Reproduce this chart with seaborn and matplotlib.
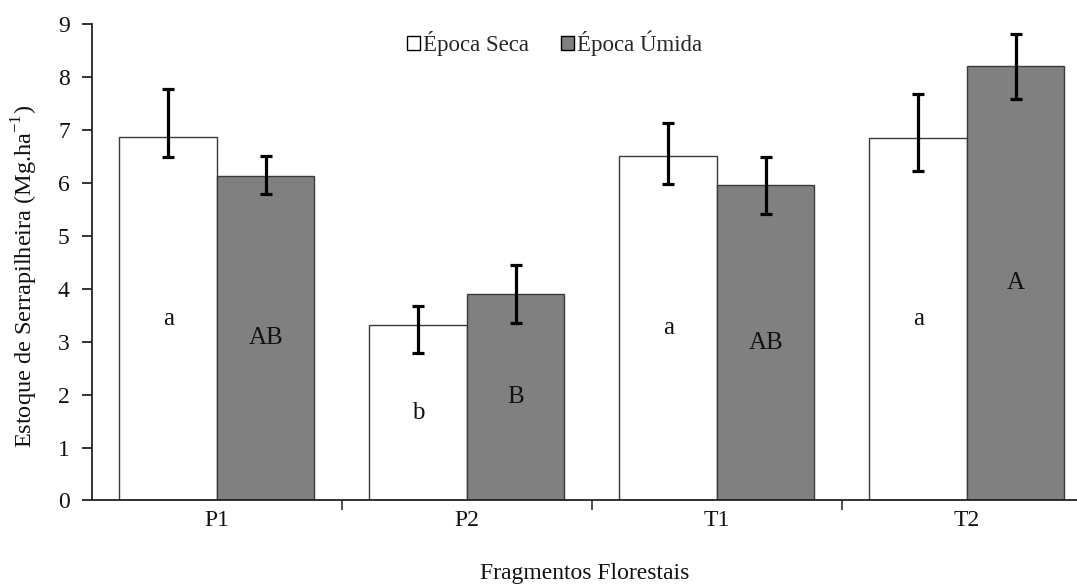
import numpy as np
import pandas as pd
import matplotlib
matplotlib.use("Agg")
import matplotlib.pyplot as plt
import seaborn as sns

# Litter stock per forest fragment and season (Mg/ha)
fragments = ["P1", "P2", "T1", "T2"]
seasons = ["Época Seca", "Época Úmida"]
dry_mean = [6.87, 3.31, 6.50, 6.84]
wet_mean = [6.13, 3.90, 5.96, 8.21]
dry_upper = [7.78, 3.68, 7.13, 7.68]
dry_lower = [6.48, 2.79, 5.98, 6.23]
wet_upper = [6.51, 4.44, 6.48, 8.82]
wet_lower = [5.78, 3.36, 5.41, 7.58]
dry_letters = ["a", "b", "a", "a"]
wet_letters = ["AB", "B", "AB", "A"]

df = pd.DataFrame({
    "Fragmento": fragments * 2,
    "Época": [seasons[0]] * 4 + [seasons[1]] * 4,
    "Estoque": dry_mean + wet_mean,
})

sns.set_theme(style="white")
plt.rcParams["font.family"] = ["Liberation Serif", "DejaVu Serif"]
plt.rcParams["mathtext.fontset"] = "custom"
plt.rcParams["mathtext.rm"] = "Liberation Serif"

fig = plt.figure(figsize=(10.77, 5.87), dpi=100)
ax = fig.add_axes([0.0854, 0.1474, 0.9146, 0.8117])

sns.barplot(data=df, x="Fragmento", y="Estoque", hue="Época",
            order=fragments, hue_order=seasons,
            palette=["white", "#808080"], errorbar=None,
            width=0.78, edgecolor="#3a3a3a", linewidth=1.0,
            saturation=1, ax=ax)

err_sets = [(dry_mean, dry_lower, dry_upper, dry_letters),
            (wet_mean, wet_lower, wet_upper, wet_letters)]
for container, (means, lo, hi, letters) in zip(ax.containers, err_sets):
    xs = [bar.get_x() + bar.get_width() / 2 for bar in container]
    m = np.array(means)
    yerr = np.vstack([m - np.array(lo), np.array(hi) - m])
    ax.errorbar(xs, m, yerr=yerr, fmt="none", ecolor="black",
                elinewidth=2.3, capsize=4.5, capthick=2.3, zorder=5)
    for x, val, lab in zip(xs, means, letters):
        ax.text(x, val / 2, lab, ha="center", va="center",
                fontsize=18, color="#111111")

ax.set_ylim(0, 9)
ax.set_yticks(range(0, 10))
ax.set_xlim(-0.5, 3.44)

# Category boundaries marked by outward minor ticks
ax.set_xticks([0.5, 1.5, 2.5], minor=True)
ax.tick_params(axis="x", which="major", length=0, labelsize=17, pad=7,
               colors="#111111")
ax.tick_params(axis="x", which="minor", length=7, width=1.2,
               direction="out", color="#333333", bottom=True)
ax.tick_params(axis="y", which="major", length=7, width=1.2,
               direction="out", left=True, labelsize=17, colors="#111111",
               pad=9)

for side in ["top", "right"]:
    ax.spines[side].set_visible(False)
for side in ["left", "bottom"]:
    ax.spines[side].set_color("#222222")
    ax.spines[side].set_linewidth(1.3)

ax.set_xlabel("Fragmentos Florestais", fontsize=17, labelpad=23,
              color="#111111")
ax.set_ylabel(r"Estoque de Serrapilheira (Mg.ha$^{\mathregular{-1}}$)",
              fontsize=17.5, color="#111111")
ax.yaxis.set_label_coords(-0.053, 0.47)

leg = ax.legend(loc="upper center", bbox_to_anchor=(0.47, 1.03),
                ncol=2, frameon=False, fontsize=16.5, handlelength=0.55,
                handleheight=0.55, handletextpad=0.15, columnspacing=1.4)
for h in leg.legend_handles:
    h.set_edgecolor("black")
    h.set_linewidth(1.0)

fig.savefig("out.png", dpi=100)
